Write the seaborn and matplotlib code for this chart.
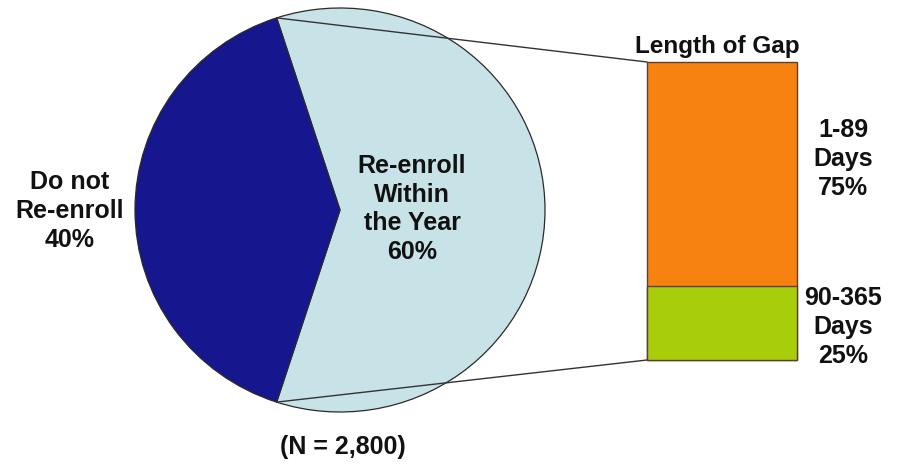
import matplotlib
matplotlib.use("Agg")
import matplotlib.pyplot as plt
from matplotlib.patches import ConnectionPatch
import numpy as np
import pandas as pd
import seaborn as sns

# Enrollment outcome shares (pie)
pie_labels = ["Re-enroll\nWithin\nthe Year\n60%", "Do not\nRe-enroll\n40%"]
pie_values = [60, 40]
pie_colors = ["#c8e3e7", "#16168f"]

# Gap length among those who re-enroll (stacked bar)
gap_labels = ["90-365\nDays\n25%", "1-89\nDays\n75%"]
gap_values = [25, 75]
gap_colors = ["#a8cd0a", "#f7820f"]

sample_note = "(N = 2,800)"
bar_title = "Length of Gap"

sns.set_theme(style="white")
plt.rcParams["font.family"] = ["Liberation Sans", "DejaVu Sans"]

W, H = 901, 466
fig = plt.figure(figsize=(W / 100, H / 100), dpi=100)
fig.patch.set_facecolor("white")

def box(x0, y0, x1, y1):
    return [x0 / W, 1 - y1 / H, (x1 - x0) / W, (y1 - y0) / H]

# Pie
ax_pie = fig.add_axes(box(135, 8, 545, 412))
start = -pie_values[0] / 100 * 360 / 2
wedges, _ = ax_pie.pie(pie_values, colors=pie_colors, startangle=start, counterclock=True,
                       wedgeprops=dict(edgecolor="#2a2a2a", linewidth=0.9), radius=1)
for w in wedges:
    w.set_clip_on(False)
ax_pie.set_xlim(-1.0, 1.0)
ax_pie.set_ylim(-1.0, 1.0)
ax_pie.set_aspect("auto")
ax_pie.axis("off")

# Stacked bar
ax_bar = fig.add_axes(box(647, 62, 797, 360))
cum = np.cumsum(gap_values)
df_top = pd.DataFrame({"g": ["gap"], "v": [cum[1]]})
df_bot = pd.DataFrame({"g": ["gap"], "v": [cum[0]]})
sns.barplot(data=df_top, x="g", y="v", color=gap_colors[1], width=1.0,
            edgecolor="#5a4030", linewidth=1.0, saturation=1, ax=ax_bar)
sns.barplot(data=df_bot, x="g", y="v", color=gap_colors[0], width=1.0,
            edgecolor="#5a4030", linewidth=1.0, saturation=1, ax=ax_bar)
for p in ax_bar.patches:
    p.set_clip_on(False)
ax_bar.set_xlim(-0.5, 0.5)
ax_bar.set_ylim(0, 100)
ax_bar.axis("off")

# Connector lines from the re-enroll wedge to the bar
a1 = np.deg2rad(start + pie_values[0] / 100 * 360)
a0 = np.deg2rad(start)
for ang, yb in [(a1, cum[1]), (a0, 0)]:
    con = ConnectionPatch(xyA=(np.cos(ang), np.sin(ang)), coordsA=ax_pie.transData,
                          xyB=(-0.5, yb), coordsB=ax_bar.transData,
                          color="#333333", linewidth=1.0)
    fig.add_artist(con)

# Text labels
def px_text(x, y, s, size=18, **kw):
    fig.text(x / W, 1 - y / H, s, ha="center", va="center", fontsize=size,
             fontweight="bold", color="#111111", linespacing=1.25, **kw)

px_text(412, 209, pie_labels[0])
px_text(70, 211, pie_labels[1])
px_text(717, 46, bar_title, size=17.5)
px_text(843, 159, gap_labels[1])
px_text(843, 327, gap_labels[0])
px_text(343, 447, sample_note)

fig.savefig("out.png", dpi=100, facecolor="white")
